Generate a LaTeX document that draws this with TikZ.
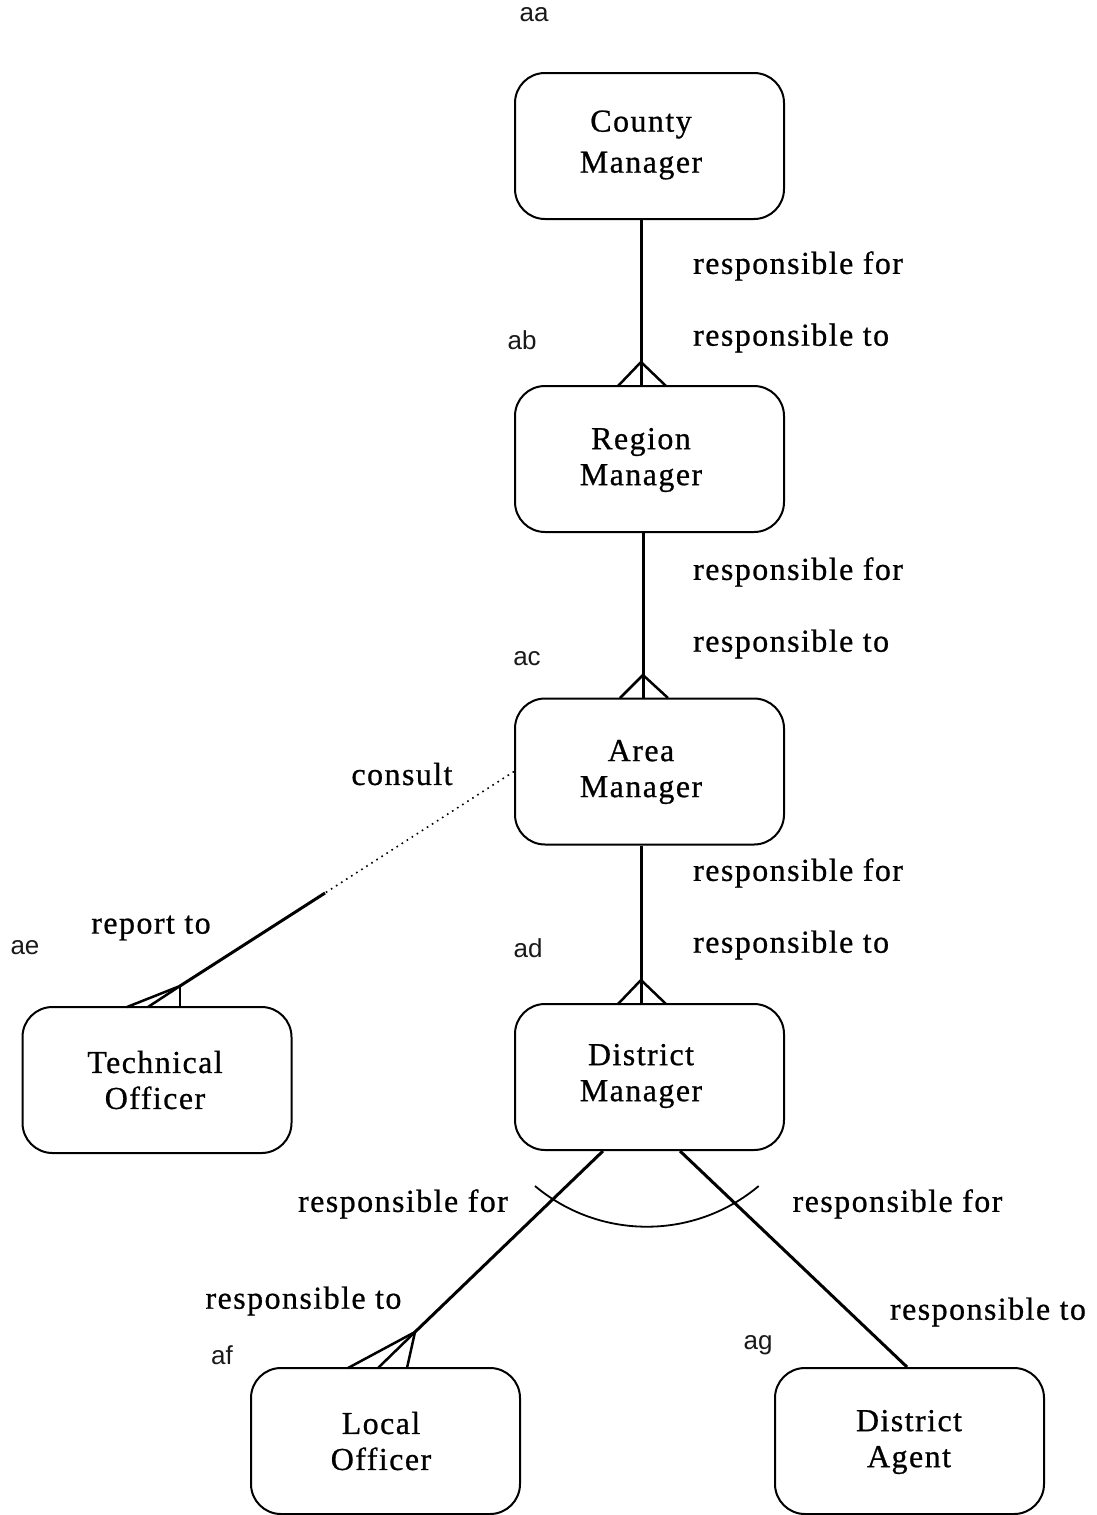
\documentclass[tikz,border=0pt]{standalone}
\usepackage{fontspec}
\setmainfont{Liberation Serif}[LetterSpace=4.5, FakeBold=0.7]
\newfontfamily\tagfont{Liberation Sans}
\usetikzlibrary{calc}
\begin{document}
\begin{tikzpicture}[x=1pt,y=-1pt,
  entity/.style={draw, line width=2pt, rounded corners=30pt,
    minimum width=269pt, minimum height=146pt, inner sep=0pt},
  etext/.style={align=center, font=\fontsize{32}{36}\selectfont, inner sep=0pt},
  rel/.style={font=\fontsize{32}{36}\selectfont, inner sep=0pt},
  tag/.style={font=\tagfont\fontsize{26}{30}\selectfont, inner sep=0pt, text=black!90},
  link/.style={line width=3pt},
  foot/.style={line width=2.5pt},
]
\useasboundingbox (0,0) rectangle (1096,1515);

% entity boxes
\node[entity] (cm) at (649.5,146) {};
\node[entity] (rm) at (649.5,459) {};
\node[entity] (am) at (649.5,771.5) {};
\node[entity] (dm) at (649.5,1077) {};
\node[entity] (to) at (157,1080) {};
\node[entity] (lo) at (385.5,1441) {};
\node[entity] (da) at (909.5,1441) {};

% entity names
\node[etext, font=\fontsize{32}{41}\selectfont] (cmt) at (641,145) {County\\Manager};
\node[etext] (rmt) at (641,460) {Region\\Manager};
\node[etext] (amt) at (641,772) {Area\\Manager};
\node[etext] (dmt) at (641,1076) {District\\Manager};
\node[etext] (tot) at (155,1080) {Technical\\Officer};
\node[etext] (lot) at (381,1441) {Local\\Officer};
\node[etext] (dat) at (909,1442) {District\\Agent};

% entity tags
\node[tag] (ta) at (534,15) {aa};
\node[tag] (tb) at (522,340) {ab};
\node[tag] (tc) at (527,659) {ac};
\node[tag] (td) at (528,948) {ad};
\node[tag] (te) at (25,948) {ae};
\node[tag] (tf) at (222,1355) {af};
\node[tag] (tg) at (758,1345) {ag};

% x positions of the vertical links
\coordinate (xa) at (641,0);
\coordinate (xb) at (643,0);
\coordinate (xl) at (603,0);
\coordinate (xr) at (680,0);
\coordinate (xg) at (907,0);

% County -> Region
\draw[link] (cm.south -| xa) -- (rm.north -| xa);
\coordinate (c1) at (641,362);
\draw[foot] (c1) -- ++(-23,24);
\draw[foot] (c1) -- ++(25,24);
\node[rel, anchor=west] (r1a) at (693,266) {responsible for};
\node[rel, anchor=west] (r1b) at (693,338) {responsible to};

% Region -> Area
\draw[link] (rm.south -| xb) -- (am.north -| xb);
\coordinate (c2) at (643,675);
\draw[foot] (c2) -- ++(-23,23);
\draw[foot] (c2) -- ++(25,23);
\node[rel, anchor=west] (r2a) at (693,572) {responsible for};
\node[rel, anchor=west] (r2b) at (693,644) {responsible to};

% Area -> District
\draw[link] (am.south -| xa) -- (dm.north -| xa);
\coordinate (c3) at (641,980);
\draw[foot] (c3) -- ++(-23,24);
\draw[foot] (c3) -- ++(25,24);
\node[rel, anchor=west] (r3a) at (693,873) {responsible for};
\node[rel, anchor=west] (r3b) at (693,945) {responsible to};

% Area -> Technical Officer (optional on the manager side)
\coordinate (tbrk) at (325,893);
\coordinate (c4) at (180,986);
\draw[line width=1.6pt, dash pattern=on 1.6pt off 4.4pt] (am.west) -- (tbrk);
\draw[link] (tbrk) -- (c4);
\draw[foot] (c4) -- ++(-53,21);
\draw[foot] (c4) -- ++(-32,21);
\draw[foot] (c4) -- ++(0,21);
\node[rel] (r4a) at (402,774) {consult};
\node[rel] (r4b) at (151,928) {report to};

% District -> Local Officer
\coordinate (c5) at (415,1332);
\draw[link] (dm.south -| xl) -- (c5);
\draw[foot] (c5) -- ++(-67,36);
\draw[foot] (c5) -- ++(-37,36);
\draw[foot] (c5) -- ++(-8,36);
\node[rel] (r5a) at (403,1204) {responsible for};
\node[rel] (r5b) at (303.5,1301) {responsible to};

% District -> District Agent
\draw[link] (dm.south -| xr) -- (da.north -| xg);
\node[rel] (r6a) at (897.5,1204) {responsible for};
\node[rel] (r6b) at (988,1312) {responsible to};

% exclusive arc across the two links
\coordinate (arcs) at (535,1186);
\draw[line width=1.8pt] (arcs) arc[start angle=130, end angle=50, radius=174];
\end{tikzpicture}
\end{document}
